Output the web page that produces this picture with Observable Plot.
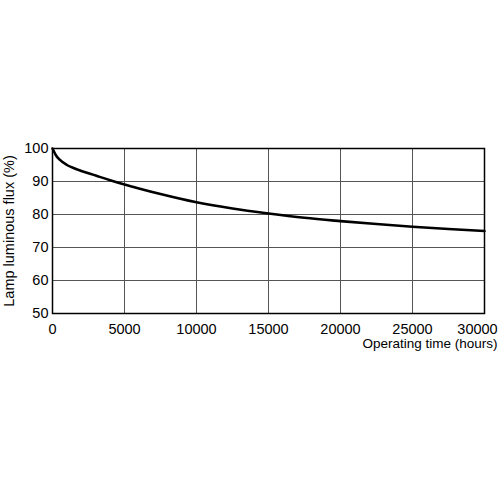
<!DOCTYPE html>
<html>
<head>
<meta charset="utf-8">
<script src="https://cdn.jsdelivr.net/npm/d3@7"></script>
<script src="https://cdn.jsdelivr.net/npm/@observablehq/plot@0.6"></script>
<style>
  html, body { margin: 0; padding: 0; background: white; }
</style>
</head>
<body>
<div id="chart"></div>
<script>
const hours = [0, 250, 500, 1000, 1500, 2000, 3000, 4000, 5000, 6000, 7500, 10000, 12500, 15000, 17500, 20000, 22500, 25000, 27500, 30000];
const flux  = [100, 97.9, 96.6, 95.0, 94.0, 93.2, 91.8, 90.4, 89.1, 87.9, 86.2, 83.7, 81.8, 80.3, 79.0, 78.0, 77.1, 76.3, 75.6, 75.0];
const xTicks = [0, 5000, 10000, 15000, 20000, 25000, 30000];
const yTicks = [50, 60, 70, 80, 90, 100];
const xLabel = "Operating time (hours)";
const yLabel = "Lamp luminous flux (%)";

const data = hours.map((h, i) => ({h, f: flux[i]}));

const chart = Plot.plot({
  width: 500,
  height: 500,
  marginLeft: 52,
  marginRight: 16,
  marginTop: 148,
  marginBottom: 187,
  style: {fontFamily: "'Liberation Sans', Arial, sans-serif", fontSize: "14.5px", background: "white", color: "black"},
  x: {domain: [0, 30000]},
  y: {domain: [50, 100]},
  marks: [
    Plot.gridX(xTicks, {stroke: "#555", strokeOpacity: 1, strokeWidth: 1}),
    Plot.gridY(yTicks, {stroke: "#555", strokeOpacity: 1, strokeWidth: 1}),
    Plot.axisX(xTicks.slice(0, -1), {tickSize: 0, tickPadding: 10, tickFormat: "d", label: null}),
    Plot.axisX(xTicks.slice(-1), {tickSize: 0, tickPadding: 10, tickFormat: "d", label: null, dx: -7}),
    Plot.axisY(yTicks, {tickSize: 0, tickPadding: 4, tickFormat: "d", label: yLabel, labelAnchor: "center", labelOffset: 49, labelArrow: "none"}),
    Plot.frame({stroke: "black", strokeWidth: 1.5}),
    Plot.line(data, {x: "h", y: "f", stroke: "black", strokeWidth: 2.6, curve: "monotone-x"}),
    Plot.text([xLabel], {frameAnchor: "bottom-right", textAnchor: "end", dx: 13, dy: 34, fontSize: 13.5, fill: "black"})
  ]
});
document.getElementById("chart").appendChild(chart);
</script>
</body>
</html>
